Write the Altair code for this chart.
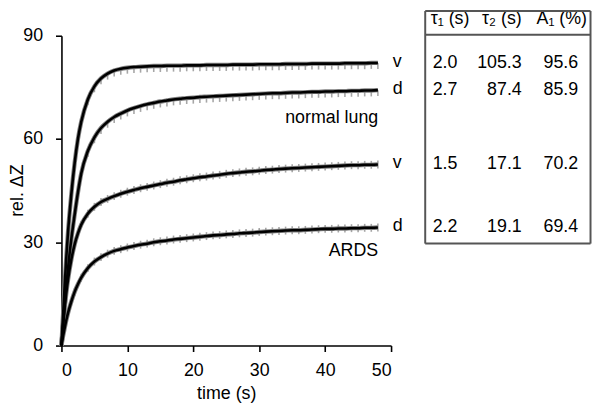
import altair as alt
import pandas as pd

# ---------------- data ----------------
time_s = [0, 0.25, 0.5, 0.75, 1, 1.5, 2, 2.5, 3,
          4, 5, 6, 7, 8, 9, 10, 11, 12, 13, 14, 15, 16, 17, 18, 19, 20,
          21, 22, 23, 24, 25, 26, 27, 28, 29, 30, 31, 32, 33, 34, 35, 36,
          37, 38, 39, 40, 41, 42, 43, 44, 45, 46, 47, 48]

normal_v = [0, 9, 18, 26, 33, 44, 53, 60, 65,
            71.5, 75.3, 77.6, 79.0, 79.9, 80.4, 80.7, 80.9, 81.0, 81.1, 81.2, 81.2,
            81.3, 81.3, 81.3, 81.4, 81.4, 81.4, 81.5, 81.5, 81.5, 81.5, 81.6, 81.6,
            81.6, 81.6, 81.7, 81.7, 81.7, 81.7, 81.8, 81.8, 81.8, 81.8, 81.9, 81.9,
            81.9, 81.9, 81.9, 82.0, 82.0, 82.0, 82.0, 82.1, 82.1]

normal_d = [0, 6, 12, 17.5, 22.5, 31, 38, 44.5, 50,
            56.5, 60.5, 63.2, 65.0, 66.4, 67.4, 68.3, 69.0, 69.6, 70.1, 70.5, 70.9,
            71.2, 71.5, 71.7, 71.9, 72.0, 72.2, 72.3, 72.4, 72.5, 72.6, 72.7, 72.8,
            72.9, 73.0, 73.1, 73.2, 73.3, 73.3, 73.4, 73.5, 73.5, 73.6, 73.7, 73.7,
            73.8, 73.8, 73.9, 73.9, 74.0, 74.0, 74.1, 74.1, 74.2]

ards_v = [0, 5.8, 11.1, 15.5, 19.2, 25.0, 29.4, 32.6, 35.1,
          38.3, 40.3, 41.7, 42.6, 43.4, 44.1, 44.7, 45.2, 45.7, 46.1, 46.5, 46.9,
          47.3, 47.6, 48.0, 48.3, 48.6, 48.9, 49.1, 49.4, 49.6, 49.9, 50.1, 50.3,
          50.5, 50.6, 50.8, 51.0, 51.1, 51.3, 51.4, 51.5, 51.6, 51.7, 51.8, 51.9,
          52.0, 52.1, 52.2, 52.3, 52.4, 52.4, 52.5, 52.5, 52.6]

ards_d = [0, 2.8, 5.2, 7.5, 9.5, 12.8, 15.6, 17.8, 19.7,
          22.5, 24.4, 25.7, 26.7, 27.5, 28.0, 28.5, 28.9, 29.3, 29.6, 30.0, 30.3,
          30.5, 30.8, 31.0, 31.2, 31.4, 31.6, 31.8, 32.0, 32.1, 32.3, 32.4, 32.6,
          32.7, 32.8, 33.0, 33.1, 33.2, 33.3, 33.4, 33.5, 33.5, 33.6, 33.7, 33.8,
          33.9, 33.9, 34.0, 34.0, 34.1, 34.1, 34.2, 34.2, 34.3]

series_names = ["normal v", "normal d", "ARDS v", "ARDS d"]
series_labels = ["v", "d", "v", "d"]
series_group = ["normal", "normal", "ARDS", "ARDS"]
series_values = [normal_v, normal_d, ards_v, ards_d]

tau1 = ["2.0", "2.7", "1.5", "2.2"]
tau2 = ["105.3", "87.4", "17.1", "19.1"]
a1 = ["95.6", "85.9", "70.2", "69.4"]

# ---------------- tables ----------------
rows = []
for name, grp, vals in zip(series_names, series_group, series_values):
    assert len(vals) == len(time_s)
    for t, v in zip(time_s, vals):
        rows.append({"series": name, "group": grp, "t": t, "v": v})
curves = pd.DataFrame(rows)

ends = pd.DataFrame({
    "series": series_names,
    "label": series_labels,
    "group": series_group,
    "t": [time_s[-1]] * 4,
    "v": [vals[-1] for vals in series_values],
    "tau1": tau1, "tau2": tau2, "a1": a1,
})

FONT = "Liberation Sans"
GRAY = "#808080"
FRAME = "#555555"

x_scale = alt.Scale(domain=[0, 50], nice=False, zero=False)
y_scale = alt.Scale(domain=[0, 90], nice=False, zero=False)

X = alt.X("t:Q", scale=x_scale,
          axis=alt.Axis(values=[0, 10, 20, 30, 40, 50], title="time (s)",
                        titlePadding=5, labelPadding=10))
Y = alt.Y("v:Q", scale=y_scale,
          axis=alt.Axis(values=[0, 30, 60, 90], title="rel. ΔZ",
                        labelPadding=13, titleX=-39, titleY=156,
                        titleBaseline="alphabetic", titleAngle=270))

base = alt.Chart(curves)

# gray teeth of the measured signal (one per breath, sampled each second)
teeth_normal = base.transform_filter(
    (alt.datum.group == "normal") & (alt.datum.t >= 3) & (alt.datum.t % 1 == 0)
).mark_tick(orient="vertical", size=6, thickness=1.6, color=GRAY, yOffset=3).encode(
    x=alt.X("t:Q", scale=x_scale), y=alt.Y("v:Q", scale=y_scale), detail="series:N")

teeth_ards = base.transform_filter(
    (alt.datum.group == "ARDS") & (alt.datum.t >= 2) & (alt.datum.t % 1 == 0)
).mark_tick(orient="vertical", size=8, thickness=1.6, color=GRAY).encode(
    x=alt.X("t:Q", scale=x_scale), y=alt.Y("v:Q", scale=y_scale), detail="series:N")

halo = base.mark_line(color=GRAY, strokeWidth=4.4, interpolate="monotone").encode(
    x=X, y=Y, detail="series:N")

fit = base.mark_line(color="black", strokeWidth=2.6, interpolate="monotone").encode(
    x=alt.X("t:Q", scale=x_scale), y=alt.Y("v:Q", scale=y_scale), detail="series:N")

end_labels = alt.Chart(ends).mark_text(
    font=FONT, fontSize=18, align="left", baseline="middle", dx=15, dy=-1, color="black"
).encode(x=alt.X("t:Q", scale=x_scale), y=alt.Y("v:Q", scale=y_scale), text="label:N")

normal_txt = alt.Chart(ends).transform_filter(alt.datum.series == "normal v").mark_text(
    font=FONT, fontSize=18, align="right", baseline="middle", color="black"
).encode(x=alt.value(320), y=alt.value(83), text=alt.value("normal lung"))

ards_txt = alt.Chart(ends).transform_filter(alt.datum.series == "ARDS v").mark_text(
    font=FONT, fontSize=18, align="right", baseline="middle", color="black"
).encode(x=alt.value(320), y=alt.value(218), text=alt.value("ARDS"))

# table on the right (rows aligned with the curves' end values)
def col(field, xpx, align):
    return alt.Chart(ends).mark_text(
        font=FONT, fontSize=18, align=align, baseline="middle", color="black"
    ).encode(x=alt.value(xpx), y=alt.Y("v:Q", scale=y_scale), text=f"{field}:N")

col1 = col("tau1", 375, "left")
col2 = col("tau2", 465, "right")
col3 = col("a1", 522, "right")

def header(txt, xpx, align):
    return alt.Chart(ends).transform_filter(alt.datum.series == "normal v").mark_text(
        font=FONT, fontSize=18, align=align, baseline="middle", color="black"
    ).encode(x=alt.value(xpx), y=alt.value(-17), text=alt.value(txt))

h1 = header("τ₁ (s)", 373, "left")
h2 = header("τ₂ (s)", 465, "right")
h3 = header("A₁ (%)", 531, "right")

def frame(x1, x2, y1, y2):
    return alt.Chart(ends).transform_filter(alt.datum.series == "normal v").mark_rule(
        color=FRAME, strokeWidth=2
    ).encode(x=alt.value(x1), x2=alt.value(x2), y=alt.value(y1), y2=alt.value(y2))

f_left = frame(367.5, 367.5, -25, 210)
f_right = frame(534.5, 534.5, -25, 210)
f_top = frame(367.5, 534.5, -25, -25)
f_bot = frame(367.5, 534.5, 210, 210)
f_head = frame(367.5, 534.5, -1, -1)

chart = alt.layer(
    halo, teeth_normal, teeth_ards, fit, end_labels, normal_txt, ards_txt,
    col1, col2, col3, h1, h2, h3, f_left, f_right, f_top, f_bot, f_head
).properties(
    width=333, height=313,
    autosize=alt.AutoSizeParams(type="none"),
    padding={"left": 54, "top": 26, "right": 203, "bottom": 56},
).configure_view(stroke=None).configure_axis(
    grid=False, domainColor="black", domainWidth=1.6, tickColor="black", tickWidth=1.6,
    tickSize=6, labelFont=FONT, labelFontSize=18, labelColor="black",
    titleFont=FONT, titleFontSize=18, titleFontWeight="normal", titleColor="black",
)

chart.save("out.html", embed_options={"renderer": "svg", "actions": False})
